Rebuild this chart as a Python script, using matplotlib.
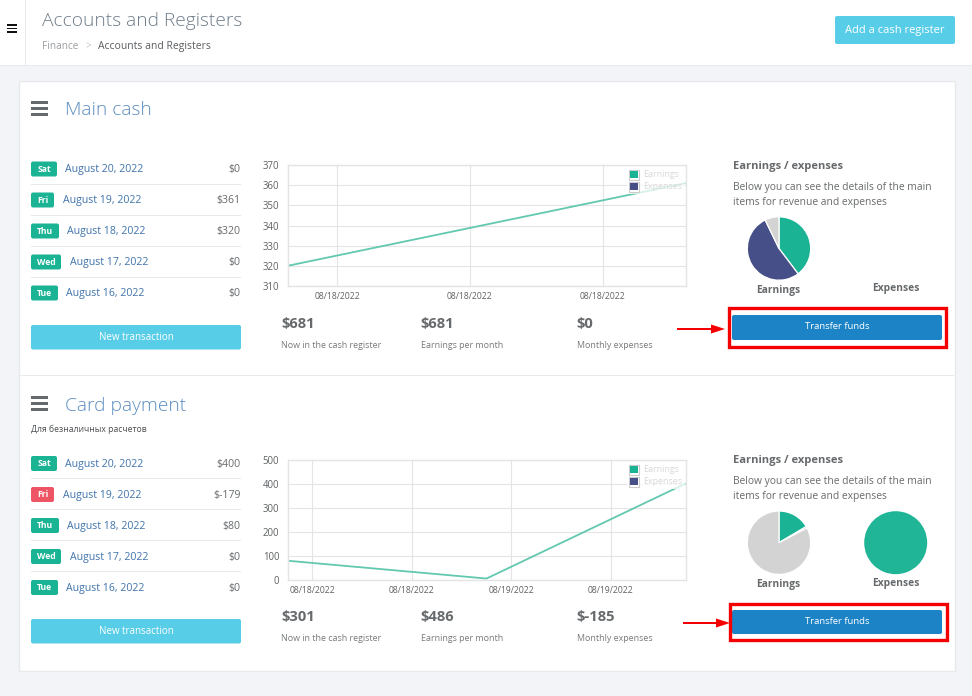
import matplotlib
matplotlib.use('Agg')
import matplotlib.pyplot as plt
from matplotlib.patches import FancyBboxPatch, Rectangle, Polygon

plt.rcParams['font.family'] = ['Open Sans', 'DejaVu Sans']

# Data
days = ['Sat', 'Fri', 'Thu', 'Wed', 'Tue']
dates = ['August 20, 2022', 'August 19, 2022', 'August 18, 2022', 'August 17, 2022', 'August 16, 2022']
main_amounts = ['$0', '$361', '$320', '$0', '$0']
card_amounts = ['$400', '$-179', '$80', '$0', '$0']
card_day_colors = ['#1ab394', '#ed5565', '#1ab394', '#1ab394', '#1ab394']

main_hours = [0, 24]
main_values = [320, 361]
main_ticks = [3, 11, 19]
main_tick_labels = ['08/18/2022', '08/18/2022', '08/18/2022']
main_yticks = [310, 320, 330, 340, 350, 360, 370]

card_hours = [0, 24, 48]
card_values = [80, 6, 400]
card_ticks = [3, 15, 27, 39]
card_tick_labels = ['08/18/2022', '08/18/2022', '08/19/2022', '08/19/2022']
card_yticks = [0, 100, 200, 300, 400, 500]

main_earnings_pie = [39.7, 53.1, 7.2]
card_earnings_pie = [16.5, 0.8, 82.7]
card_expenses_pie = [100]
pie_colors = ['#1ab394', '#464f88', '#d3d3d3']

main_stats = ['$681', '$681', '$0']
card_stats = ['$301', '$486', '$-185']
stat_labels = ['Now in the cash register', 'Earnings per month', 'Monthly expenses']

W, H = 972, 696
TEAL = '#1ab394'
CYAN = '#58cde8'
BLUE = '#1c84c6'
RED = '#f50000'
GREY = '#676a6c'
LINK = '#3f73ab'

fig = plt.figure(figsize=(W / 100, H / 100), dpi=100, facecolor='#f3f4f8')


def px_axes(zorder):
    ax = fig.add_axes([0, 0, 1, 1], zorder=zorder)
    ax.set_xlim(0, W)
    ax.set_ylim(H, 0)
    ax.axis('off')
    ax.patch.set_alpha(0)
    return ax


bg = px_axes(0)
fg = px_axes(3)


def rect(ax, x0, y0, x1, y1, color, **kw):
    ax.add_patch(Rectangle((x0, y0), x1 - x0, y1 - y0, facecolor=color, edgecolor='none', **kw))


def rbox(ax, x0, y0, x1, y1, color, r=2):
    ax.add_patch(FancyBboxPatch((x0 + r, y0 + r), x1 - x0 - 2 * r, y1 - y0 - 2 * r,
                                boxstyle=f'round,pad={r},rounding_size={r}',
                                facecolor=color, edgecolor='none'))


def text(ax, x, y, s, size, color=GREY, ha='left', **kw):
    # open sans sits a bit high with va=center, so push it down
    ax.text(x, y + 1.4, s, fontsize=size, color=color, ha=ha, va='center', **kw)


def burger(ax, x0, x1, y0, gap, th, color):
    for i in range(3):
        rect(ax, x0, y0 + i * gap, x1, y0 + i * gap + th, color)


def make_chart(y0, y1, hours, values, ticks, tick_labels, yticks):
    left, right = 287.5, 685.5
    ax = fig.add_axes([left / W, 1 - y1 / H, (right - left) / W, (y1 - y0) / H], zorder=1)
    ax.plot(hours, values, color='#62c8b0', lw=1.3, solid_capstyle='butt')
    ax.set_xlim(hours[0], hours[-1])
    ax.set_ylim(yticks[0], yticks[-1])
    ax.set_xticks(ticks)
    ax.set_xticklabels(tick_labels)
    ax.set_yticks(yticks)
    ax.grid(color='#e4e4e4', lw=0.8)
    ax.set_axisbelow(True)
    ax.tick_params(length=0, labelcolor='#5f6163')
    ax.tick_params(axis='x', pad=4, labelsize=6.2)
    ax.tick_params(axis='y', pad=6, labelsize=6.9)
    for s in ax.spines.values():
        s.set_color('#e4e4e4')
        s.set_linewidth(1.0)
    return ax


def legend(y):
    rect(fg, 627, y, 685, y + 25, 'white', alpha=0.75)
    for i, (name, c) in enumerate(zip(['Earnings', 'Expenses'], pie_colors)):
        yy = y + i * 12
        fg.add_patch(Rectangle((628.5, yy + 0.5), 10, 10, facecolor='white', edgecolor='#cccccc', lw=0.8))
        rect(fg, 629.7, yy + 1.7, 637.8, yy + 9.3, c)
        text(fg, 643, yy + 4.5, name, 6.4, color='#d8d8d8')


def make_pie(cx, cy, r, values):
    ax = fig.add_axes([(cx - r) / W, 1 - (cy + r) / H, 2 * r / W, 2 * r / H], zorder=1)
    if len(values) > 1:
        ax.pie(values, colors=pie_colors, startangle=90, counterclock=False, radius=1,
               wedgeprops={'edgecolor': 'white', 'linewidth': 0.9})
    else:
        ax.pie(values, colors=['#1fb596'], startangle=90, radius=1)
    ax.set_xlim(-1.01, 1.01)
    ax.set_ylim(-1.01, 1.01)


def arrow(x0, x1, tip, y):
    rect(fg, x0, y - 1.3, x1, y + 1.3, RED)
    fg.add_patch(Polygon([(x1, y - 4.5), (tip, y), (x1, y + 4.5)], facecolor=RED, edgecolor='none'))


def section(title, title_y, row_y, amounts, day_colors, stats, stat_y, btn_y, head_y):
    burger(bg, 31, 48, title_y - 7.5, 6, 3, '#676a6c')
    text(bg, 65, title_y + 1, title, 13.8, color='#5b8cc0', fontweight='light')

    widths = [26, 23, 28, 30, 27]
    date_x = [65, 62.5, 67, 69.5, 66]
    for i, y in enumerate(row_y):
        rbox(bg, 31, y - 7.5, 31 + widths[i], y + 7.5, day_colors[i])
        text(bg, 31 + widths[i] / 2, y - 1, days[i], 6.2, color='white', ha='center', fontweight='bold')
        text(bg, date_x[i], y - 0.5, dates[i], 7.6, color=LINK)
        text(bg, 240.5, y - 0.5, amounts[i], 7.6, ha='right')
        if i < 4:
            rect(bg, 31, y + 14.5, 241, y + 15.5, '#e7eaec')

    rbox(bg, 31, btn_y, 241, btn_y + 24.5, CYAN)
    text(bg, 136, btn_y + 11, 'New transaction', 7, color='white', ha='center')

    for x, s, lab in zip([281, 420.5, 576.5], stats, stat_labels):
        text(bg, x, stat_y, s, 10.6, fontweight='bold')
        text(bg, x, stat_y + 21.5, lab, 6.4, color='#777a7c')

    text(bg, 732.5, head_y, 'Earnings / expenses', 8, fontweight='bold')
    text(bg, 732.5, head_y + 21, 'Below you can see the details of the main', 7.4)
    text(bg, 732.5, head_y + 36, 'items for revenue and expenses', 7.4)


# page chrome
rect(bg, 0, 0, W, 65, 'white')
rect(bg, 0, 65, W, 66, '#e7eaec')
rect(bg, 25, 0, 26, 65, '#e7eaec')
burger(bg, 7, 17, 24, 3.6, 1.5, '#111111')
text(bg, 41.5, 19.5, 'Accounts and Registers', 13.8, color='#6f7d8a', fontweight='light')
text(bg, 41.5, 45, 'Finance', 7.2, color='#9a9da0')
text(bg, 85, 45, '>', 7, color='#c0c2c4')
text(bg, 98, 45, 'Accounts and Registers', 7.5, color='#5a5d60')
rbox(bg, 835, 16, 955, 44, CYAN)
text(bg, 895, 29, 'Add a cash register', 8, color='white', ha='center')

# card
bg.add_patch(Rectangle((18.5, 80.5), 936, 590, facecolor='white', edgecolor='#e7eaec', lw=1))
rect(bg, 19, 375, 954, 376, '#e7eaec')

section('Main cash', 108, [169, 200, 231, 262, 293], main_amounts, [TEAL] * 5,
        main_stats, 322.5, 325, 165)
section('Card payment', 403.5, [463.5, 494.5, 525.5, 556.5, 587.5], card_amounts, card_day_colors,
        card_stats, 616, 619, 459.5)
text(bg, 31, 428, 'Для безналичных расчетов', 6.2, color='#4a4d50')

# line charts
make_chart(165, 286, main_hours, main_values, main_ticks, main_tick_labels, main_yticks)
make_chart(459.5, 580, card_hours, card_values, card_ticks, card_tick_labels, card_yticks)
legend(169)
legend(464)

# pies
make_pie(779, 248.5, 32, main_earnings_pie)
make_pie(779, 542.7, 32, card_earnings_pie)
make_pie(895.7, 542.7, 31.8, card_expenses_pie)
for earn_y, exp_y in [(289, 287), (583, 582)]:
    text(bg, 778.5, earn_y, 'Earnings', 7.4, ha='center', fontweight='bold')
    text(bg, 895.5, exp_y, 'Expenses', 7.4, ha='center', fontweight='bold')

# buttons with red annotations
rbox(fg, 732, 315, 942, 340, BLUE)
text(fg, 837.5, 325.5, 'Transfer funds', 6.8, color='white', ha='center')
fg.add_patch(Rectangle((728.5, 308), 217.5, 39, facecolor='none', edgecolor=RED, lw=2.4))
arrow(677, 711, 725, 329)

rbox(fg, 732, 610, 942, 634, BLUE)
text(fg, 837.5, 620.5, 'Transfer funds', 6.8, color='white', ha='center')
fg.add_patch(Rectangle((729.5, 604), 217.5, 35.5, facecolor='none', edgecolor=RED, lw=2.4))
arrow(683, 716, 730, 623)

fig.savefig('out.png', dpi=100, facecolor=fig.get_facecolor())
